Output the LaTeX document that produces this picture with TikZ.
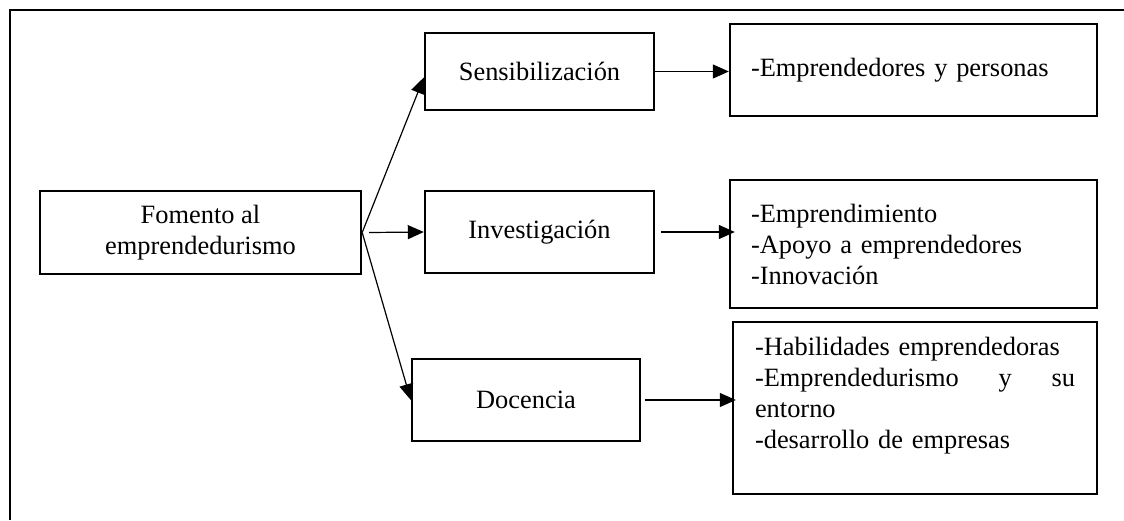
\documentclass[tikz,border=0pt]{standalone}
\usepackage{fontspec}
\setmainfont{Liberation Serif}
\usetikzlibrary{arrows.meta}

\begin{document}
\begin{tikzpicture}[x=0.5pt,y=-0.5pt,->,>={Triangle[length=8pt,width=7pt]},line width=0.6pt]
        \tikzstyle{caja}=[draw, line width=1.2pt, align=center, font=\fontsize{13.2}{15.5}\selectfont]
        \tikzstyle{lista}=[caja, align=left, inner xsep=10.5pt]

        \useasboundingbox (0,0) rectangle (1124,520);
        \coordinate (marco1) at (10,520);
        \coordinate (marco2) at (1124,10);
        \draw[-, line width=1.4pt] (marco1) |- (marco2);

        \node[caja, minimum width=160.5pt, minimum height=41.5pt] (fom) at (200.5,232.5) {Fomento al\\emprendedurismo};
        \node[caja, minimum width=114.5pt, minimum height=38.5pt] (sen) at (539.5,71.5)  {Sensibilización};
        \node[caja, minimum width=114.5pt, minimum height=41pt]   (inv) at (539.5,232)   {Investigación};
        \node[caja, minimum width=114pt,   minimum height=41pt]   (doc) at (526,400)     {Docencia};

        \node[lista, text width=162.5pt, minimum height=46pt] (per) at (913.5,70)  {-Emprendedores y personas};
        \node[lista, text width=162.5pt, minimum height=64pt] (emp) at (913.5,244) {-Emprendimiento\\-Apoyo a emprendedores\\-Innovación};
        \node[lista, text width=160pt, inner xsep=11pt, minimum height=86pt] (hab) at (915,408)
            {-Habilidades emprendedoras\\-Emprendedurismo\hfill y\hfill su\\entorno\\-desarrollo de empresas\\[-0.5pt]\mbox{}};

        \draw (fom.east) -- ([yshift=-3pt]sen.west);
        \draw ([xshift=3.5pt]fom.east) -- (inv.west);
        \draw (fom.east) -- (doc.west);
        \draw (sen.east) -- (sen.east -| per.west);
        \draw ([xshift=3pt]inv.east) -- ([xshift=3pt]inv.east -| emp.west);
        \draw ([xshift=2pt]doc.east) -- ([xshift=2pt]doc.east -| hab.west);
\end{tikzpicture}
\end{document}
